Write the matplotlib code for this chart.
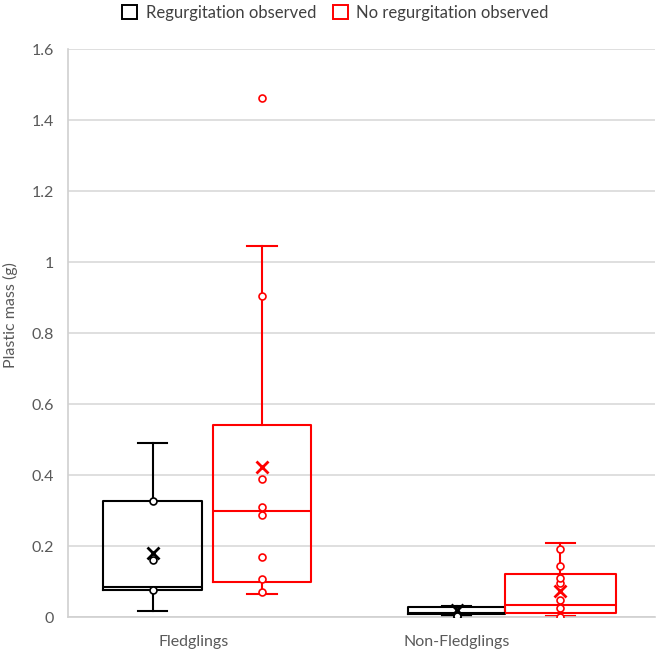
import matplotlib
matplotlib.use('Agg')
import matplotlib.pyplot as plt
from matplotlib.patches import Patch

plt.rcParams['font.family'] = ['Lato', 'DejaVu Sans']

# categories
groups = ['Fledglings', 'Non-Fledglings']

# box statistics (g)
reg_whislo = [0.016, 0.004]
reg_q1 = [0.076, 0.008]
reg_med = [0.084, 0.010]
reg_q3 = [0.327, 0.028]
reg_whishi = [0.49, 0.031]
reg_mean = [0.18, 0.020]
reg_points = [[0.076, 0.162, 0.327], [0.002, 0.004]]

noreg_whislo = [0.065, 0.002]
noreg_q1 = [0.098, 0.010]
noreg_med = [0.30, 0.034]
noreg_q3 = [0.542, 0.120]
noreg_whishi = [1.046, 0.209]
noreg_mean = [0.423, 0.072]
noreg_points = [[0.07, 0.106, 0.169, 0.286, 0.31, 0.389, 0.903, 1.461],
                [0.0, 0.025, 0.048, 0.096, 0.11, 0.144, 0.191]]

reg_pos = [0.288, 1.324]
noreg_pos = [0.661, 1.678]
reg_width = [0.337, 0.33]
noreg_width = [0.334, 0.378]
label_pos = [0.429, 1.324]


def make_stats(lo, q1, med, q3, hi, mean):
    return [dict(whislo=a, q1=b, med=c, q3=d, whishi=e, mean=f, fliers=[])
            for a, b, c, d, e, f in zip(lo, q1, med, q3, hi, mean)]


fig = plt.figure(figsize=(6.64, 6.51), dpi=100)
ax = fig.add_axes([0.1024, 0.0522, 0.8840, 0.8725])

series = [
    ('black', reg_pos, reg_width,
     make_stats(reg_whislo, reg_q1, reg_med, reg_q3, reg_whishi, reg_mean),
     reg_points),
    ('#ff0000', noreg_pos, noreg_width,
     make_stats(noreg_whislo, noreg_q1, noreg_med, noreg_q3, noreg_whishi, noreg_mean),
     noreg_points),
]

for color, pos, width, stats, points in series:
    lp = dict(color=color, linewidth=1.5)
    ax.bxp(stats, positions=pos, widths=width, showmeans=True, showfliers=False,
           capwidths=0.1, manage_ticks=False,
           boxprops=lp, whiskerprops=lp, capprops=lp, medianprops=lp,
           meanprops=dict(marker='x', markeredgecolor=color, markersize=8,
                          markeredgewidth=2.0, linestyle='none'))
    for x, vals in zip(pos, points):
        ax.plot([x] * len(vals), vals, linestyle='none', marker='o',
                markersize=5, markerfacecolor='white', markeredgecolor=color,
                markeredgewidth=1.2, zorder=4)

ax.set_xlim(0, 2)
ax.set_ylim(0, 1.6)
ax.set_yticks([0, 0.2, 0.4, 0.6, 0.8, 1.0, 1.2, 1.4, 1.6])
ax.set_yticklabels(['0', '0.2', '0.4', '0.6', '0.8', '1', '1.2', '1.4', '1.6'])
ax.set_xticks(label_pos)
ax.set_xticklabels(groups)
ax.tick_params(length=0, labelsize=11.5, labelcolor='#595959')
ax.tick_params(axis='x', pad=13)
ax.tick_params(axis='y', pad=10)
ax.grid(axis='y', color='#d9d9d9', linewidth=1.2)
ax.set_axisbelow(True)
for side in ['top', 'right']:
    ax.spines[side].set_visible(False)
for side in ['left', 'bottom']:
    ax.spines[side].set_color('#d0d0d0')
    ax.spines[side].set_linewidth(1.2)

fig.text(0.016, 1 - 315 / 651, 'Plastic mass (g)', rotation=90,
         ha='center', va='center', fontsize=11.5, color='#595959')

handles = [Patch(facecolor='white', edgecolor='black', linewidth=1.4),
           Patch(facecolor='white', edgecolor='#ff0000', linewidth=1.4)]
fig.legend(handles, ['Regurgitation observed', 'No regurgitation observed'],
           loc='center', bbox_to_anchor=(0.505, 1 - 13 / 651), ncol=2,
           frameon=False, fontsize=12, labelcolor='#404040',
           handlelength=0.9, handleheight=0.9, handletextpad=0.5,
           columnspacing=1.0)

fig.savefig('out.png', dpi=100)
